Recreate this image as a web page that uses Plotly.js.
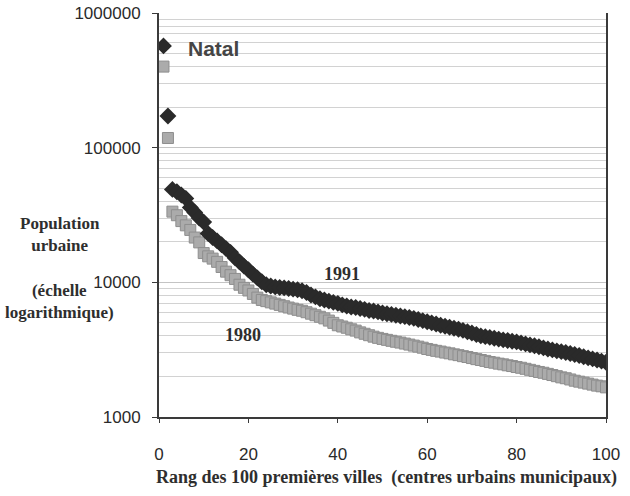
<!DOCTYPE html>
<html>
<head>
<meta charset="utf-8">
<script src="https://cdn.plot.ly/plotly-3.0.1.min.js"></script>
<style>html,body{margin:0;padding:0;background:#fff;}#chart{width:630px;height:496px;}</style>
</head>
<body>
<div id="chart"></div>
<script>
// Rank of the 100 largest urban centres
const ranks = [];
for (let i = 1; i <= 100; i++) ranks.push(i);

// Urban population 1991 (dark diamonds)
const pop1991 = [
  570000, 172000, 49000, 47000, 44500, 42000, 36000, 33000, 30000, 28000,
  23000, 21500, 20300, 19000, 17800, 16700, 15200, 14200, 13200, 12400,
  11500, 10800, 10100, 9600, 9400, 9250, 9150, 9100, 9000, 8900,
  8800, 8650, 8400, 8050, 7800, 7550, 7400, 7250, 7100, 6980,
  6800, 6680, 6560, 6500, 6400, 6300, 6180, 6120, 6030, 5920,
  5850, 5780, 5700, 5620, 5560, 5480, 5400, 5300, 5200, 5100,
  5000, 4900, 4800, 4720, 4640, 4560, 4480, 4400, 4300, 4200,
  4100, 4000, 3950, 3900, 3840, 3790, 3740, 3700, 3650, 3610,
  3550, 3490, 3430, 3380, 3320, 3260, 3200, 3150, 3100, 3060,
  3010, 2960, 2910, 2860, 2800, 2750, 2700, 2650, 2600, 2550
];

// Urban population 1980 (grey squares)
const pop1980 = [
  400000, 118000, 33500, 31500, 28500, 26500, 24500, 21500, 19800, 16500,
  15600, 15000, 14200, 13000, 12000, 11300, 10600, 9600, 9100, 8700,
  8200, 7700, 7400, 7250, 7100, 6950, 6800, 6650, 6500, 6380,
  6250, 6150, 6000, 5850, 5700, 5550, 5400, 5200, 5000, 4800,
  4700, 4600, 4480, 4380, 4250, 4150, 4050, 3950, 3870, 3800,
  3740, 3680, 3620, 3570, 3510, 3450, 3390, 3330, 3270, 3200,
  3150, 3100, 3060, 3010, 2970, 2920, 2880, 2830, 2790, 2740,
  2690, 2650, 2610, 2560, 2530, 2490, 2460, 2420, 2390, 2350,
  2320, 2280, 2240, 2200, 2160, 2130, 2090, 2050, 2010, 1970,
  1940, 1900, 1860, 1830, 1800, 1770, 1740, 1710, 1690, 1660
];

const xTickVals = [0, 20, 40, 60, 80, 100];
const yTickVals = [1000, 10000, 100000, 1000000];
const yTickText = ['1000', '10000', '100000', '1000000'];

// minor grid levels 2..9 x 10^k
const yMinorVals = [];
for (const d of [1000, 10000, 100000]) {
  for (let m = 2; m <= 9; m++) yMinorVals.push(m * d);
}

const serif = 'Liberation Serif, Times New Roman, serif';
const sans = 'Liberation Sans, Arial, sans-serif';

const traces = [
  {
    x: ranks, y: pop1980, type: 'scatter', mode: 'markers', name: '1980',
    marker: { symbol: 'square', size: 11, color: '#ababab', line: { color: '#8e8e8e', width: 1 } },
    hoverinfo: 'skip'
  },
  {
    x: ranks, y: pop1991, type: 'scatter', mode: 'markers', name: '1991',
    marker: { symbol: 'diamond', size: 13, color: '#2a2a2a', line: { width: 0 } },
    hoverinfo: 'skip'
  }
];

function note(text, x, y, font) {
  return { text: text, xref: 'paper', yref: 'paper', x: x, y: y, xanchor: 'center', yanchor: 'middle',
           showarrow: false, align: 'center', font: font };
}

const layout = {
  width: 630, height: 496,
  margin: { l: 159, r: 24, t: 13, b: 79 },
  paper_bgcolor: '#ffffff', plot_bgcolor: '#ffffff',
  showlegend: false,
  xaxis: {
    range: [0, 100], tickmode: 'array', tickvals: xTickVals,
    showline: true, linecolor: '#3a3a3a', linewidth: 1.5,
    ticks: 'outside', ticklen: 4, tickcolor: '#3a3a3a', tickwidth: 1,
    showgrid: false, zeroline: false,
    tickfont: { family: sans, size: 17, color: '#2a2a2a' },
    ticklabelstandoff: 17
  },
  yaxis: {
    type: 'log', range: [3, 6], tickmode: 'array', tickvals: yTickVals, ticktext: yTickText,
    showline: true, linecolor: '#3a3a3a', linewidth: 2, mirror: true,
    ticks: 'outside', ticklen: 5, tickcolor: '#3a3a3a',
    showgrid: true, gridcolor: '#c4c4c4', gridwidth: 1,
    minor: { tickmode: 'array', tickvals: yMinorVals, showgrid: true, gridcolor: '#d2d2d2', gridwidth: 1, ticks: '' },
    zeroline: false,
    tickfont: { family: sans, size: 17, color: '#2a2a2a' },
    ticklabelstandoff: 8
  },
  annotations: [
    note('Natal', 0.123, 0.911, { family: sans, size: 21, color: '#454545', weight: 'bold' }),
    note('<b>1991</b>', 0.409, 0.354, { family: serif, size: 18, color: '#2e2e2e' }),
    note('<b>1980</b>', 0.188, 0.203, { family: serif, size: 18, color: '#2e2e2e' }),
    note('<b>Population<br>urbaine</b>', -0.2215, 0.4505, { family: serif, size: 17, color: '#2e2e2e' }),
    note('<b>(échelle<br>logarithmique)</b>', -0.2215, 0.286, { family: serif, size: 17, color: '#2e2e2e' }),
    note('<b>Rang des 100 premières villes  (centres urbains municipaux)</b>', 0.508, -0.149,
         { family: serif, size: 18, color: '#2e2e2e' })
  ]
};

Plotly.newPlot('chart', traces, layout, { displayModeBar: false, staticPlot: true });
</script>
</body>
</html>
